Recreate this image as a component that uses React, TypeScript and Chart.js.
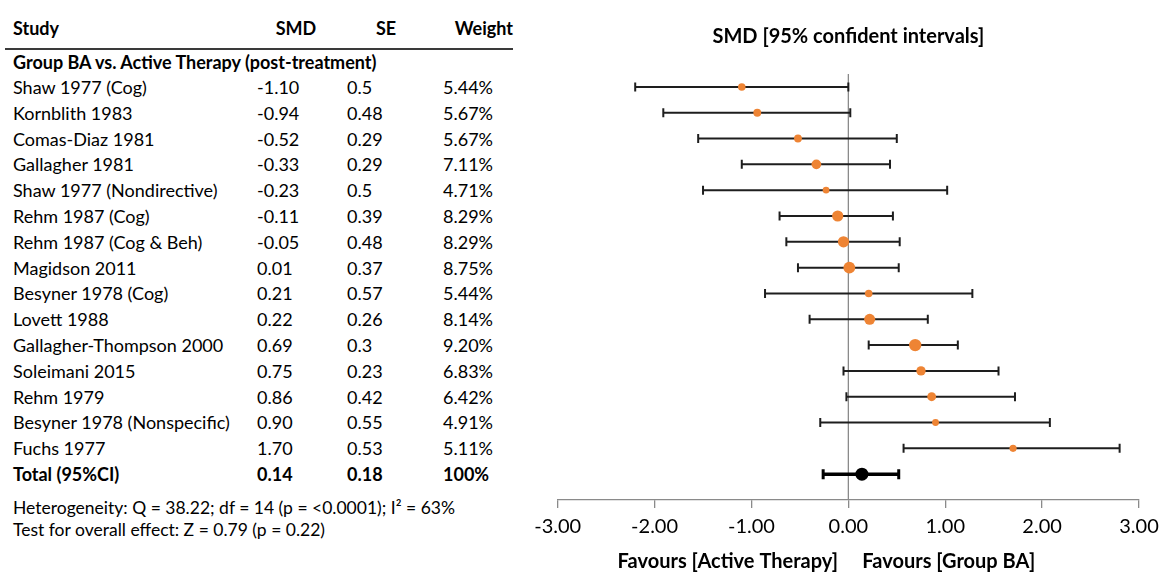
import React, { useEffect, useRef } from "react";
import { Chart, registerables } from "chart.js";

Chart.register(...registerables);

// ---------- data ----------
const studies = [
  "Shaw 1977 (Cog)",
  "Kornblith 1983",
  "Comas-Diaz 1981",
  "Gallagher 1981",
  "Shaw 1977 (Nondirective)",
  "Rehm 1987 (Cog)",
  "Rehm 1987 (Cog & Beh)",
  "Magidson 2011",
  "Besyner 1978 (Cog)",
  "Lovett 1988",
  "Gallagher-Thompson 2000",
  "Soleimani 2015",
  "Rehm 1979",
  "Besyner 1978 (Nonspecific)",
  "Fuchs 1977",
];
const smd = [-1.1, -0.94, -0.52, -0.33, -0.23, -0.11, -0.05, 0.01, 0.21, 0.22, 0.69, 0.75, 0.86, 0.9, 1.7];
const se = [0.5, 0.48, 0.29, 0.29, 0.5, 0.39, 0.48, 0.37, 0.57, 0.26, 0.3, 0.23, 0.42, 0.55, 0.53];
const weight = [5.44, 5.67, 5.67, 7.11, 4.71, 8.29, 8.29, 8.75, 5.44, 8.14, 9.2, 6.83, 6.42, 4.91, 5.11];
const ciLow = [-2.2, -1.91, -1.55, -1.1, -1.5, -0.71, -0.64, -0.52, -0.86, -0.4, 0.21, -0.05, -0.02, -0.29, 0.57];
const ciHigh = [0.0, 0.02, 0.5, 0.43, 1.02, 0.46, 0.53, 0.52, 1.28, 0.82, 1.13, 1.55, 1.72, 2.08, 2.8];

const totalLabel = "Total (95%CI)";
const totalSmd = 0.14;
const totalSe = 0.18;
const totalWeight = "100%";
const totalLow = -0.26;
const totalHigh = 0.52;

const xTicks = [-3, -2, -1, 0, 1, 2, 3];
const groupTitle = "Group BA vs. Active Therapy (post-treatment)";
const heterogeneity = "Heterogeneity: Q = 38.22; df = 14 (p = <0.0001); I\u00B2 = 63%";
const overallTest = "Test for overall effect: Z = 0.79 (p = 0.22)";
const chartTitle = "SMD [95% confident intervals]";
const axisTitle = "Favours [Active Therapy]     Favours [Group BA]";

// ---------- layout ----------
const FONT = "Lato, 'Open Sans', sans-serif";
const ROW0 = 87;
const ROWH = 25.8;
const ORANGE = "#EE8434";

function Cell(props: { x: number; y: number; text: string; bold?: boolean; size?: number; align?: "left" | "center" | "right"; w?: number }) {
  const { x, y, text, bold, size = 18, align = "left", w = 0 } = props;
  const style: React.CSSProperties = {
    position: "absolute",
    top: y - 12,
    height: 24,
    lineHeight: "24px",
    fontFamily: FONT,
    fontSize: size,
    fontWeight: bold ? 700 : 400,
    color: "#000",
    whiteSpace: "nowrap",
  };
  if (align === "left") style.left = x;
  else if (align === "right") style.right = 1160 - x;
  else {
    style.left = x - w / 2;
    style.width = w;
    style.textAlign = "center";
  }
  return <div style={style}>{text}</div>;
}

export default function App() {
  const ref = useRef<HTMLCanvasElement>(null);

  useEffect(() => {
    if (!ref.current) return;
    const n = studies.length;
    const datasets: any[] = [];

    datasets.push({
      data: smd.map((v, i) => ({ x: v, y: i })),
      pointRadius: weight.map((w) => 0.64 * w + 0.3),
      pointBackgroundColor: ORANGE,
      pointBorderWidth: 0,
      showLine: false,
      order: 0,
    });
    datasets.push({
      data: [{ x: totalSmd, y: n }],
      pointRadius: 6.5,
      pointBackgroundColor: "#000",
      pointBorderWidth: 0,
      showLine: false,
      order: 0,
    });
    studies.forEach((_, i) => {
      datasets.push({
        data: [
          { x: ciLow[i], y: i },
          { x: ciHigh[i], y: i },
        ],
        showLine: true,
        borderColor: "#1e1e1e",
        borderWidth: 2,
        pointStyle: "line",
        pointRotation: 90,
        pointRadius: 4.5,
        pointBorderWidth: 2,
        pointBorderColor: "#1e1e1e",
        order: 1,
      });
    });
    datasets.push({
      data: [
        { x: totalLow, y: n },
        { x: totalHigh, y: n },
      ],
      showLine: true,
      borderColor: "#000",
      borderWidth: 3.5,
      pointStyle: "line",
      pointRotation: 90,
      pointRadius: 5,
      pointBorderWidth: 3,
      pointBorderColor: "#000",
      order: 1,
    });
    datasets.push({
      data: [
        { x: 0, y: -0.5 },
        { x: 0, y: n + 1 },
      ],
      showLine: true,
      borderColor: "#8a8a8a",
      borderWidth: 1.3,
      pointRadius: 0,
      order: 2,
    });

    const chart = new Chart(ref.current, {
      type: "scatter",
      data: { datasets },
      options: {
        animation: false,
        responsive: false,
        events: [],
        layout: { padding: { left: 37.7, right: 37, top: 0, bottom: 0 } },
        plugins: {
          legend: { display: false },
          tooltip: { enabled: false },
          title: {
            display: true,
            text: chartTitle,
            color: "#000",
            font: { family: FONT, size: 20, weight: "bold", lineHeight: 1.2 },
            padding: { top: 25, bottom: 25 },
          },
        },
        scales: {
          x: {
            type: "linear",
            min: -3,
            max: 3,
            afterBuildTicks: (axis: any) => {
              axis.ticks = xTicks.map((v) => ({ value: v }));
            },
            ticks: {
              color: "#000",
              font: { family: FONT, size: 20, lineHeight: 1.0 },
              padding: 9,
              callback: (v: any) => Number(v).toFixed(2),
            },
            grid: {
              drawOnChartArea: false,
              drawTicks: true,
              tickLength: 8,
              color: "#8a8a8a",
              lineWidth: 1.3,
            },
            border: { display: true, color: "#8a8a8a", width: 1.3 },
            title: {
              display: true,
              text: axisTitle + "         ",
              color: "#000",
              font: { family: FONT, size: 20, weight: "bold", lineHeight: 1.0 },
              padding: { top: 6, bottom: 0 },
            },
          },
          y: {
            type: "linear",
            reverse: true,
            min: -0.5,
            max: n + 1,
            display: false,
          },
        },
      },
    });
    return () => chart.destroy();
  }, []);

  const n = studies.length;
  const rowY = (i: number) => ROW0 + ROWH * i;
  const colSmd = 257;
  const colSe = 347;
  const colW = 443;

  return (
    <div style={{ position: "absolute", left: 0, top: 0, width: 1160, height: 572, overflow: "hidden", background: "#fff" }}>
      <Cell x={13} y={28} text="Study" bold />
      <Cell x={296} y={28} text="SMD" bold align="center" w={80} />
      <Cell x={386} y={28} text="SE" bold align="center" w={60} />
      <Cell x={513} y={28} text="Weight" bold align="right" />
      <div style={{ position: "absolute", left: 5, top: 48, width: 508, height: 2, background: "#3a3a3a" }} />
      <Cell x={13} y={62} text={groupTitle} bold />
      {studies.map((s, i) => (
        <React.Fragment key={s}>
          <Cell x={13} y={rowY(i)} text={s} />
          <Cell x={colSmd} y={rowY(i)} text={smd[i].toFixed(2)} />
          <Cell x={colSe} y={rowY(i)} text={String(se[i])} />
          <Cell x={colW} y={rowY(i)} text={weight[i].toFixed(2) + "%"} />
        </React.Fragment>
      ))}
      <Cell x={13} y={rowY(n)} text={totalLabel} bold />
      <Cell x={colSmd} y={rowY(n)} text={totalSmd.toFixed(2)} bold />
      <Cell x={colSe} y={rowY(n)} text={totalSe.toFixed(2)} bold />
      <Cell x={colW} y={rowY(n)} text={totalWeight} bold />
      <Cell x={13} y={508} text={heterogeneity} size={17.5} />
      <Cell x={13} y={530} text={overallTest} size={17.5} />
      <canvas
        ref={ref}
        width={656}
        height={572}
        style={{ position: "absolute", left: 520, top: 0, width: 656, height: 572 }}
      />
    </div>
  );
}
